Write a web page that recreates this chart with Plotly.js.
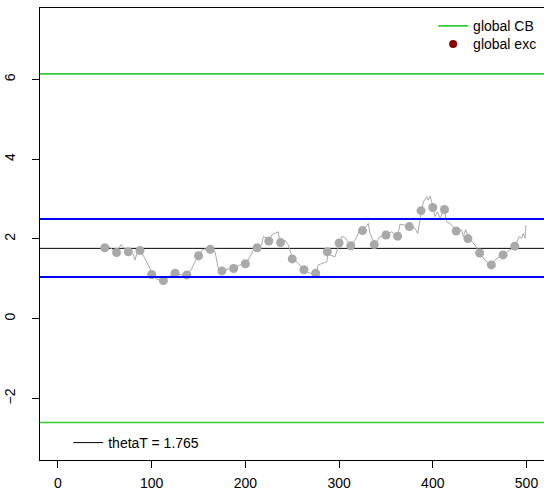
<!DOCTYPE html>
<html>
<head>
<meta charset="utf-8">
<script src="https://cdn.plot.ly/plotly-3.0.1.min.js"></script>
<style>html,body{margin:0;padding:0;background:#fff}#plot{width:544px;height:494px}</style>
</head>
<body>
<div id="plot"></div>
<script>
// Path of the statistic
const pathT = [50.2,52.0,62.6,67.2,75.0,80.4,82.2,85.1,88.3,92.1,94.7,98.2,100.6,105.3,112.4,117.7,124.9,132.7,138.4,142.7,146.2,151.0,153.4,156.9,163.0,167.6,171.1,176.4,181.8,188.2,194.2,200.3,204.9,208.4,212.7,217.4,219.1,222.7,225.2,228.1,231.6,235.1,236.9,238.7,242.3,245.8,250.5,256.5,262.2,268.9,275.0,277.8,281.4,286.8,288.5,290.3,295.6,300.2,302.8,306.3,312.4,317.0,322.3,325.5,331.2,333.0,338.3,343.6,350.1,356.1,362.3,365.0,370.3,374.9,381.0,383.9,386.3,388.2,389.9,393.5,395.2,397.0,400.5,402.3,405.2,407.7,412.3,414.8,418.4,425.5,430.8,432.6,435.1,438.6,445.0,450.4,455.7,462.4,468.2,475.2,487.7,492.3,494.9,496.6,498.4,499.5];
const pathY = [1.78,1.85,1.66,1.86,1.68,1.61,1.47,1.72,1.71,1.55,1.43,1.26,1.11,0.99,0.96,1.05,1.14,1.10,1.10,1.26,1.43,1.58,1.72,1.75,1.74,1.68,1.26,1.20,1.25,1.26,1.35,1.38,1.55,1.72,1.78,1.85,2.06,2.02,1.95,2.10,2.14,2.18,1.89,1.91,1.97,1.85,1.50,1.39,1.23,1.14,1.14,1.35,1.39,1.43,1.68,1.60,1.55,1.90,2.06,2.04,1.83,1.97,2.22,2.21,2.39,2.14,1.86,2.06,2.10,2.18,2.07,2.37,2.35,2.31,2.27,2.14,2.47,2.71,2.93,3.06,2.97,3.08,2.79,2.56,2.68,2.52,2.74,2.43,2.39,2.20,2.22,2.06,2.24,2.01,1.85,1.65,1.47,1.35,1.51,1.60,1.82,2.06,2.02,2.14,2.02,2.35];

// Grey points
const dotT = [50,62.5,75,87.5,100,112.5,125,137.5,150,162.5,175,187.5,200,212.5,225,237.5,250,262.5,275,287.5,300,312.5,325,337.5,350,362.5,375,387.5,400,412.5,425,437.5,450,462.5,475,487.5];
const dotY = [1.78,1.66,1.68,1.71,1.11,0.96,1.14,1.10,1.58,1.74,1.20,1.26,1.38,1.78,1.95,1.91,1.50,1.23,1.14,1.68,1.90,1.83,2.21,1.86,2.10,2.07,2.31,2.71,2.79,2.74,2.20,2.01,1.65,1.35,1.60,1.82];

// Horizontal reference levels
const globalCB = [-2.60, 6.14];
const localCB = [1.05, 2.50];
const thetaT = 1.765;

// Axis ranges and ticks
const xRange = [-19.2, 518.7];
const yRange = [-3.54, 7.79];
const xTicks = [0,100,200,300,400,500];
const yTicks = [-2,0,2,4,6];

const green = '#33cc33';
const FONT = 'Liberation Sans, Arial, Helvetica, sans-serif';

const shapes = [];
globalCB.forEach(v => shapes.push({type:'line',xref:'paper',x0:0,x1:1,yref:'y',y0:v,y1:v,line:{color:green,width:1.6},layer:'above'}));
localCB.forEach(v => shapes.push({type:'line',xref:'paper',x0:0,x1:1,yref:'y',y0:v,y1:v,line:{color:'#0000ff',width:2},layer:'above'}));
shapes.push({type:'line',xref:'paper',x0:0,x1:1,yref:'y',y0:thetaT,y1:thetaT,line:{color:'#000',width:1},layer:'below'});

const traces = [
  {x:pathT, y:pathY, type:'scatter', mode:'lines', line:{color:'#aaaaaa',width:1}, showlegend:false, hoverinfo:'skip'},
  {x:dotT, y:dotY, type:'scatter', mode:'markers', marker:{color:'#a9a9a9',size:9}, showlegend:false},
  {x:[null], y:[null], type:'scatter', mode:'lines', name:'global CB', line:{color:green,width:1.6}, legend:'legend'},
  {x:[null], y:[null], type:'scatter', mode:'markers', name:'global exc', marker:{color:'#8b0000',size:8}, legend:'legend3'},
  {x:[null], y:[null], type:'scatter', mode:'lines', name:'thetaT = ' + thetaT, line:{color:'#000',width:1}, legend:'legend2'}
];

const legBase = {xanchor:'left', yanchor:'top', bgcolor:'rgba(0,0,0,0)', borderwidth:0, font:{size:14}, itemwidth:30};

const layout = {
  width:544, height:494,
  margin:{l:40, r:0, t:8, b:34},
  paper_bgcolor:'#fff', plot_bgcolor:'#fff',
  font:{family:FONT, size:14, color:'#000'},
  showlegend:true,
  xaxis:{range:xRange, tickvals:xTicks, ticktext:xTicks.map(String), showgrid:false, zeroline:false,
         showline:true, linecolor:'#000', linewidth:1, mirror:true, ticks:'outside', ticklen:7, tickcolor:'#000',
         ticklabelstandoff:3, tickfont:{size:14}},
  yaxis:{range:yRange, tickvals:yTicks, ticktext:yTicks.map(v => v<0 ? '\u2212'+Math.abs(v) : String(v)), showgrid:false, zeroline:false,
         showline:true, linecolor:'#000', linewidth:1, ticks:'outside', ticklen:7, tickcolor:'#000',
         tickangle:-90, ticklabelstandoff:11, tickfont:{size:14}},
  shapes:shapes,
  legend:Object.assign({x:0.78, y:0.995}, legBase),
  legend3:Object.assign({x:0.78, y:0.955}, legBase),
  legend2:Object.assign({x:0.056, y:0.073}, legBase)
};

Plotly.newPlot('plot', traces, layout, {staticPlot:true, displayModeBar:false});
</script>
</body>
</html>
